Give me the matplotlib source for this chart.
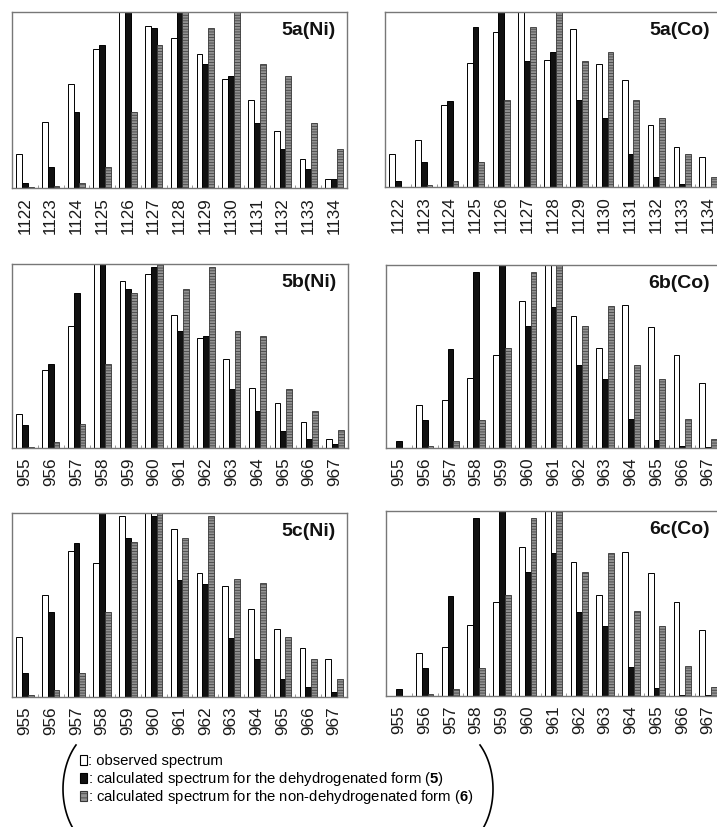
import matplotlib
matplotlib.use('Agg')
import matplotlib.pyplot as plt
import numpy as np
from matplotlib.patches import Rectangle
from matplotlib.lines import Line2D

plt.rcParams['font.family'] = ['Liberation Sans', 'DejaVu Sans']
plt.rcParams['mathtext.fontset'] = 'custom'
plt.rcParams['mathtext.rm'] = 'Liberation Sans'
plt.rcParams['mathtext.bf'] = 'Liberation Sans:bold'
plt.rcParams['hatch.linewidth'] = 0.5

# mass labels
masses_a = ['1122', '1123', '1124', '1125', '1126', '1127', '1128',
            '1129', '1130', '1131', '1132', '1133', '1134']
masses_bc = ['955', '956', '957', '958', '959', '960', '961',
             '962', '963', '964', '965', '966', '967']

# relative intensities, frame top = 100 (bars above it are cut off)
# 5a(Ni)
obs_5a_ni = [19.5, 37.5, 59, 79, 105, 92, 85, 76, 62, 50, 32.6, 16.3, 5]
dehyd_5a_ni = [2.8, 12, 43, 81, 105, 91, 105, 70.5, 63.6, 36.7, 22.3, 11, 5]
nondehyd_5a_ni = [0.3, 1, 3, 12, 43, 81.5, 105, 91, 105, 70.5, 63.6, 37, 22.3]
# 5a(Co)
obs_5a_co = [19, 27, 47, 71, 88.4, 105, 72.4, 90.5, 70.5, 61.3, 35.4, 22.9, 17.3]
dehyd_5a_co = [3.2, 14.3, 49.3, 91.6, 105, 71.8, 77, 49.5, 39.4, 18.7, 5.7, 1.5, 0.2]
nondehyd_5a_co = [0.2, 1, 3.4, 14.3, 49.5, 91.6, 105, 71.8, 77, 49.7, 39.4, 18.7, 5.7]
# 5b(Ni)
obs_5b_ni = [18.3, 42.5, 66.4, 105, 90.6, 94.4, 72.5, 59.7, 48.6, 32.5, 24.2, 13.9, 4.9]
dehyd_5b_ni = [12.7, 45.6, 84.3, 105, 86.3, 98.2, 63.7, 61, 31.8, 20, 9.2, 4.7, 2]
nondehyd_5b_ni = [0.7, 3.4, 12.8, 45.8, 84.3, 105, 86.4, 98.6, 63.8, 61, 32, 20.3, 9.6]
# 6b(Co)
obs_6b_co = [0, 23.3, 26.2, 38.4, 50.7, 80.4, 105, 72.4, 54.5, 78, 66.2, 50.7, 35.3]
dehyd_6b_co = [3.8, 15.3, 54.2, 96.4, 105, 66.7, 77.1, 45.5, 37.6, 15.8, 4.5, 1.3, 0.3]
nondehyd_6b_co = [0, 1.1, 4, 15.5, 54.4, 96.4, 105, 66.9, 77.5, 45.6, 37.8, 16, 4.7]
# 5c(Ni)
obs_5c_ni = [32.5, 55.5, 79.2, 72.9, 98.2, 105, 91.1, 67.3, 60.2, 47.6, 37.1, 26.6, 20.4]
dehyd_5c_ni = [13, 46.1, 83.9, 105, 86.4, 98.2, 63.8, 61.5, 32.2, 20.6, 9.8, 5.2, 2.5]
nondehyd_5c_ni = [1.1, 3.6, 13.2, 46.1, 84.1, 105, 86.6, 98.4, 64.2, 61.7, 32.4, 20.8, 9.9]
# 6c(Co)
obs_6c_co = [0, 23.1, 26.4, 38.4, 50.9, 80.5, 105, 72.6, 54.7, 78, 66.4, 50.9, 35.6]
dehyd_6c_co = [3.8, 15.3, 54.2, 96.2, 105, 66.8, 77.4, 45.5, 37.7, 15.9, 4.5, 0.4, 0.3]
nondehyd_6c_co = [0, 0.9, 4, 15.3, 54.5, 96.4, 105, 67, 77.4, 45.7, 38.1, 16, 4.7]

W, H = 717, 828
fig = plt.figure(figsize=(W / 100, H / 100), dpi=100)

def add_ax(x0, y0, x1, y1):
    return fig.add_axes([x0 / W, 1 - y1 / H, (x1 - x0) / W, (y1 - y0) / H])

bw = 0.225
grey_style = dict(facecolor='#929292', edgecolor='#363636', hatch='------', linewidth=0.6)

def draw_panel(ax, labels, obs, dehyd, nondehyd, title):
    x = np.arange(len(labels))
    ax.bar(x - bw, obs, bw, color='white', edgecolor='black', linewidth=0.7)
    ax.bar(x, dehyd, bw, color='#111111', edgecolor='black', linewidth=0.7)
    ax.bar(x + bw, nondehyd, bw, **grey_style)
    ax.set_xlim(-0.5, len(labels) - 0.5)
    ax.set_ylim(0, 100)
    ax.set_yticks([])
    ax.set_xticks(x)
    ax.set_xticklabels(labels, rotation=90, fontsize=12.3, color='#1a1a1a')
    ax.set_xticks(x[:-1] + 0.5, minor=True)
    ax.tick_params(axis='x', which='major', length=0, pad=6)
    ax.tick_params(axis='x', which='minor', length=2.5, direction='in', color='#888888')
    for s in ax.spines.values():
        s.set_color('#777777')
        s.set_linewidth(1.0)
    ax.annotate(title, xy=(1, 1), xycoords='axes fraction', xytext=(-11, -9),
                textcoords='offset pixels', ha='right', va='top',
                fontsize=14, fontweight='bold', color='#111111')

ax1 = add_ax(12, 13, 347, 189)
draw_panel(ax1, masses_a, obs_5a_ni, dehyd_5a_ni, nondehyd_5a_ni, '5a(Ni)')
ax2 = add_ax(385, 13, 721, 188)
draw_panel(ax2, masses_a, obs_5a_co, dehyd_5a_co, nondehyd_5a_co, '5a(Co)')
ax3 = add_ax(12, 265, 348, 449)
draw_panel(ax3, masses_bc, obs_5b_ni, dehyd_5b_ni, nondehyd_5b_ni, '5b(Ni)')
ax4 = add_ax(386, 266, 721, 449)
draw_panel(ax4, masses_bc, obs_6b_co, dehyd_6b_co, nondehyd_6b_co, '6b(Co)')
ax5 = add_ax(12, 514, 347, 698)
draw_panel(ax5, masses_bc, obs_5c_ni, dehyd_5c_ni, nondehyd_5c_ni, '5c(Ni)')
ax6 = add_ax(386, 512, 721, 697)
draw_panel(ax6, masses_bc, obs_6c_co, dehyd_6c_co, nondehyd_6c_co, '6c(Co)')

# key at the bottom
legend_lines = [': observed spectrum',
                ': calculated spectrum for the dehydrogenated form ($\\mathbf{5}$)',
                ': calculated spectrum for the non-dehydrogenated form ($\\mathbf{6}$)']
legend_styles = [dict(facecolor='white', edgecolor='black', linewidth=0.8),
                 dict(facecolor='#111111', edgecolor='black', linewidth=0.8),
                 dict(facecolor='#929292', edgecolor='#363636', hatch='----', linewidth=0.8)]
for i, (txt, st) in enumerate(zip(legend_lines, legend_styles)):
    yc = 761 + 18 * i
    fig.add_artist(Rectangle((80 / W, 1 - (yc + 5) / H), 7 / W, 10 / H,
                             transform=fig.transFigure, **st))
    fig.text(88 / W, 1 - yc / H, txt, fontsize=10.7, va='center', ha='left')

# big brackets around the key
t = np.linspace(-1, 1, 60)
for xm, sign in [(63, 1), (493, -1)]:
    xs = xm + sign * 13 * (1 - np.cos(0.8 * t)) / (1 - np.cos(0.8))
    ys = 790 + 44 * np.sin(0.8 * t) / np.sin(0.8)
    fig.add_artist(Line2D(xs / W, 1 - ys / H, transform=fig.transFigure,
                          color='black', linewidth=1.2))

fig.savefig('out.png', dpi=100)
